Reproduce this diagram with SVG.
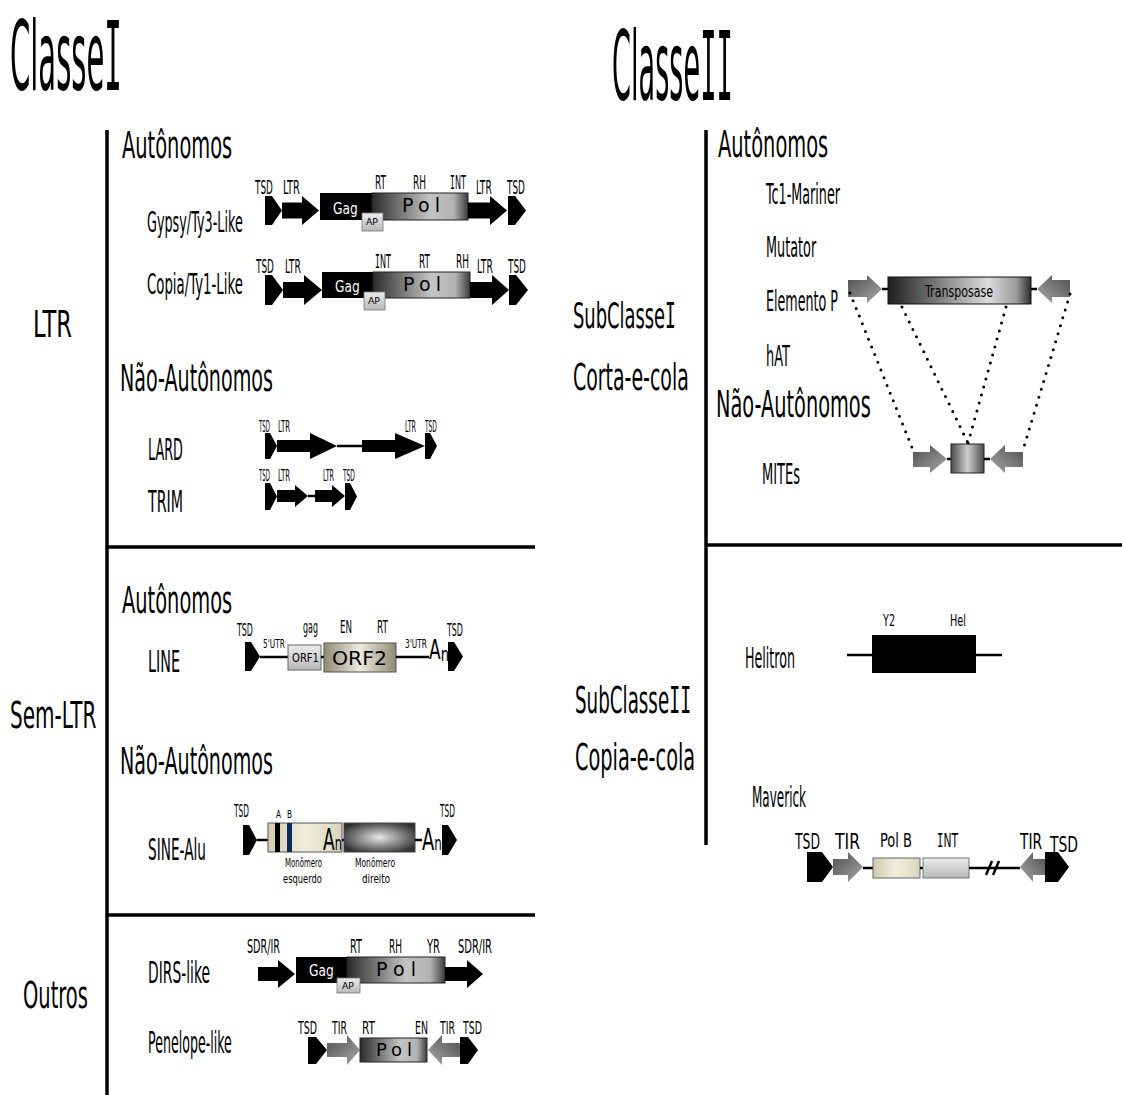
<svg xmlns="http://www.w3.org/2000/svg" width="1122" height="1095" viewBox="0 0 1122 1095">
  <defs>
    <linearGradient id="gPol" x1="0" y1="0" x2="1" y2="0">
      <stop offset="0" stop-color="#2a2a2a"/>
      <stop offset="0.6" stop-color="#c4c4c4"/>
      <stop offset="0.85" stop-color="#b2b2b2"/>
      <stop offset="1" stop-color="#3c3c3c"/>
    </linearGradient>
    <linearGradient id="gTrans" x1="0" y1="0" x2="1" y2="0">
      <stop offset="0" stop-color="#1e1e1e"/>
      <stop offset="0.7" stop-color="#dcdcdc"/>
      <stop offset="0.9" stop-color="#9a9a9a"/>
      <stop offset="1" stop-color="#2a2a2a"/>
    </linearGradient>
    <linearGradient id="gGray" x1="0" y1="0" x2="1" y2="1">
      <stop offset="0" stop-color="#4e4e4e"/>
      <stop offset="1" stop-color="#a8a8a8"/>
    </linearGradient>
    <linearGradient id="gGrayL" x1="1" y1="0" x2="0" y2="1">
      <stop offset="0" stop-color="#4e4e4e"/>
      <stop offset="1" stop-color="#a8a8a8"/>
    </linearGradient>
    <linearGradient id="gLight" x1="0" y1="0" x2="0" y2="1">
      <stop offset="0" stop-color="#ececec"/>
      <stop offset="1" stop-color="#b8b8b8"/>
    </linearGradient>
    <linearGradient id="gKhaki" x1="0" y1="0" x2="1" y2="0">
      <stop offset="0" stop-color="#8e8a72"/>
      <stop offset="0.5" stop-color="#ecebdf"/>
      <stop offset="1" stop-color="#8e8a72"/>
    </linearGradient>
    <linearGradient id="gBeige" x1="0" y1="0" x2="1" y2="0">
      <stop offset="0" stop-color="#d2cdb0"/>
      <stop offset="0.5" stop-color="#f0eedf"/>
      <stop offset="1" stop-color="#d8d4bc"/>
    </linearGradient>
    <radialGradient id="gMono" cx="0.5" cy="0.5" r="0.6">
      <stop offset="0" stop-color="#e6e6e6"/>
      <stop offset="1" stop-color="#2e2e2e"/>
    </radialGradient>
    <linearGradient id="gMite" x1="0" y1="0" x2="1" y2="0">
      <stop offset="0" stop-color="#4a4a4a"/>
      <stop offset="0.5" stop-color="#cfcfcf"/>
      <stop offset="1" stop-color="#4a4a4a"/>
    </linearGradient>
    <style>
      .t { font-family: "DejaVu Sans", "Liberation Sans", sans-serif; fill: #000; }
      .m { font-family: "DejaVu Sans Mono", monospace; }
      .w { fill: #fff; }
      .blk { fill: #000; }
      .pol { fill: url(#gPol); stroke: #222; stroke-width: 1; }
      .ap { fill: url(#gLight); stroke: #777; stroke-width: 0.8; }
      .gr { fill: url(#gGray); }
      .grl { fill: url(#gGrayL); }
      .ln { stroke: #000; stroke-width: 2.5; fill: none; }
      .axis { stroke: #000; stroke-width: 3.5; fill: none; }
      .dots { stroke: #000; stroke-width: 3; stroke-linecap: round; stroke-dasharray: 0 8.3; fill: none; }
    </style>
  </defs>
  <rect width="1122" height="1095" fill="#fff"/>

  <!-- headings (narrow lettering: horizontal scale + fitted length) -->
  <g id="titles">
    <text class="t" font-size="96" transform="matrix(0.303 0 0 1 10 90)" textLength="369" lengthAdjust="spacingAndGlyphs">Classe<tspan class="m">I</tspan></text>
    <text class="t" font-size="96" transform="matrix(0.283 0 0 1 612 100)" textLength="427" lengthAdjust="spacingAndGlyphs">Classe<tspan class="m">II</tspan></text>
  </g>

  <!-- section frame lines -->
  <g id="frame">
    <line class="axis" x1="107" y1="130" x2="107" y2="1095"/>
    <line class="axis" x1="107" y1="547" x2="535" y2="547"/>
    <line class="axis" x1="107" y1="915" x2="535" y2="915"/>
    <line class="axis" x1="706" y1="130" x2="706" y2="845"/>
    <line class="axis" x1="706" y1="545" x2="1122" y2="545"/>
  </g>

  <!-- category labels, class I -->
  <g id="labels-classe1">
    <text class="t" font-size="38" transform="matrix(0.510 0 0 1 122 158)" textLength="216" lengthAdjust="spacingAndGlyphs">Autônomos</text>
    <text class="t" font-size="37" transform="matrix(0.566 0 0 1 33 337)" textLength="69" lengthAdjust="spacingAndGlyphs">LTR</text>
    <text class="t" font-size="28" transform="matrix(0.452 0 0 1 147 232)" textLength="212" lengthAdjust="spacingAndGlyphs">Gypsy/Ty3-Like</text>
    <text class="t" font-size="28" transform="matrix(0.463 0 0 1 147 294)" textLength="207" lengthAdjust="spacingAndGlyphs">Copia/Ty1-Like</text>
    <text class="t" font-size="38" transform="matrix(0.503 0 0 1 120 391)" textLength="304" lengthAdjust="spacingAndGlyphs">Não-Autônomos</text>
    <text class="t" font-size="30" transform="matrix(0.431 0 0 1 148 460)" textLength="81" lengthAdjust="spacingAndGlyphs">LARD</text>
    <text class="t" font-size="30" transform="matrix(0.474 0 0 1 148 512)" textLength="74" lengthAdjust="spacingAndGlyphs">TRIM</text>
    <text class="t" font-size="38" transform="matrix(0.510 0 0 1 122 613)" textLength="216" lengthAdjust="spacingAndGlyphs">Autônomos</text>
    <text class="t" font-size="30" transform="matrix(0.478 0 0 1 148 672)" textLength="67" lengthAdjust="spacingAndGlyphs">LINE</text>
    <text class="t" font-size="37" transform="matrix(0.523 0 0 1 10 728)" textLength="165" lengthAdjust="spacingAndGlyphs">Sem-LTR</text>
    <text class="t" font-size="38" transform="matrix(0.503 0 0 1 120 774)" textLength="304" lengthAdjust="spacingAndGlyphs">Não-Autônomos</text>
    <text class="t" font-size="30" transform="matrix(0.453 0 0 1 148 860)" textLength="128" lengthAdjust="spacingAndGlyphs">SINE-Alu</text>
    <text class="t" font-size="37" transform="matrix(0.523 0 0 1 23 1008)" textLength="124" lengthAdjust="spacingAndGlyphs">Outros</text>
    <text class="t" font-size="30" transform="matrix(0.459 0 0 1 148 983)" textLength="135" lengthAdjust="spacingAndGlyphs">DIRS-like</text>
    <text class="t" font-size="30" transform="matrix(0.383 0 0 1 148 1053)" textLength="219" lengthAdjust="spacingAndGlyphs">Penelope-like</text>
  </g>

  <!-- category labels, class II -->
  <g id="labels-classe2">
    <text class="t" font-size="38" transform="matrix(0.510 0 0 1 718 157)" textLength="216" lengthAdjust="spacingAndGlyphs">Autônomos</text>
    <text class="t" font-size="28" transform="matrix(0.443 0 0 1 766 204)" textLength="167" lengthAdjust="spacingAndGlyphs">Tc1-Mariner</text>
    <text class="t" font-size="28" transform="matrix(0.456 0 0 1 766 257)" textLength="110" lengthAdjust="spacingAndGlyphs">Mutator</text>
    <text class="t" font-size="28" transform="matrix(0.453 0 0 1 766 311)" textLength="159" lengthAdjust="spacingAndGlyphs">Elemento P</text>
    <text class="t" font-size="28" transform="matrix(0.444 0 0 1 766 366)" textLength="54" lengthAdjust="spacingAndGlyphs">hAT</text>
    <text class="t" font-size="38" transform="matrix(0.509 0 0 1 716 417)" textLength="304" lengthAdjust="spacingAndGlyphs">Não-Autônomos</text>
    <text class="t" font-size="28" transform="matrix(0.464 0 0 1 762 484)" textLength="82" lengthAdjust="spacingAndGlyphs">MITEs</text>
    <text class="t" font-size="36" transform="matrix(0.497 0 0 1 573 328)" textLength="207" lengthAdjust="spacingAndGlyphs">SubClasse<tspan class="m">I</tspan></text>
    <text class="t" font-size="38" transform="matrix(0.499 0 0 1 573 390)" textLength="232" lengthAdjust="spacingAndGlyphs">Corta-e-cola</text>
    <text class="t" font-size="28" transform="matrix(0.450 0 0 1 745 668)" textLength="111" lengthAdjust="spacingAndGlyphs">Helitron</text>
    <text class="t" font-size="38" transform="matrix(0.480 0 0 1 575 713)" textLength="242" lengthAdjust="spacingAndGlyphs">SubClasse<tspan class="m">II</tspan></text>
    <text class="t" font-size="38" transform="matrix(0.507 0 0 1 575 770)" textLength="237" lengthAdjust="spacingAndGlyphs">Copia-e-cola</text>
    <text class="t" font-size="28" transform="matrix(0.429 0 0 1 752 807)" textLength="126" lengthAdjust="spacingAndGlyphs">Maverick</text>
  </g>

  <!-- Gypsy/Ty3 -->
  <g id="gypsy">
    <path class="blk" d="M265,196 H272 L282,210.5 L272,225 H265 Z"/>
    <path class="blk" d="M282,202.5 H302 V196 L319,210.5 L302,225 V218.5 H282 Z"/>
    <rect class="blk" x="320" y="193" width="52" height="27"/>
    <rect class="pol" x="372" y="193" width="96" height="27"/>
    <rect class="ap" x="362" y="213" width="21" height="18"/>
    <path class="blk" d="M468,202.5 H490 V196 L507,210.5 L490,225 V218.5 H468 Z"/>
    <path class="blk" d="M508,196 H515 L526,210.5 L515,225 H508 Z"/>
    <text class="t w" font-size="16" transform="matrix(0.772 0 0 1 333 214)" textLength="32" lengthAdjust="spacingAndGlyphs">Gag</text>
    <text class="t" x="402" y="212" font-size="19" textLength="38" lengthAdjust="spacing">Pol</text>
    <text class="t" x="366" y="225" font-size="8.5" textLength="12" lengthAdjust="spacingAndGlyphs">AP</text>
    <text class="t" font-size="20" transform="matrix(0.447 0 0 1 255 194)" textLength="40" lengthAdjust="spacingAndGlyphs">TSD</text>
    <text class="t" font-size="20" transform="matrix(0.456 0 0 1 283 194)" textLength="37" lengthAdjust="spacingAndGlyphs">LTR</text>
    <text class="t" font-size="20" transform="matrix(0.421 0 0 1 375 189)" textLength="26" lengthAdjust="spacingAndGlyphs">RT</text>
    <text class="t" font-size="20" transform="matrix(0.449 0 0 1 413 189)" textLength="29" lengthAdjust="spacingAndGlyphs">RH</text>
    <text class="t" font-size="20" transform="matrix(0.408 0 0 1 450 189)" textLength="39" lengthAdjust="spacingAndGlyphs"><tspan class="m">I</tspan>NT</text>
    <text class="t" font-size="20" transform="matrix(0.429 0 0 1 476 194)" textLength="37" lengthAdjust="spacingAndGlyphs">LTR</text>
    <text class="t" font-size="20" transform="matrix(0.447 0 0 1 507 194)" textLength="40" lengthAdjust="spacingAndGlyphs">TSD</text>
  </g>

  <!-- Copia/Ty1 -->
  <g id="copia">
    <path class="blk" d="M265,275 H272 L283,290 L272,305 H265 Z"/>
    <path class="blk" d="M283,282 H304 V275 L322,290 L304,305 V298 H283 Z"/>
    <rect class="blk" x="322" y="272" width="51" height="26"/>
    <rect class="pol" x="373" y="272" width="97" height="26"/>
    <rect class="ap" x="364" y="292" width="21" height="18"/>
    <path class="blk" d="M470,282 H492 V275 L509,290 L492,305 V298 H470 Z"/>
    <path class="blk" d="M509,275 H516 L528,290 L516,305 H509 Z"/>
    <text class="t w" font-size="16" transform="matrix(0.772 0 0 1 335 292)" textLength="32" lengthAdjust="spacingAndGlyphs">Gag</text>
    <text class="t" x="403" y="291" font-size="19" textLength="38" lengthAdjust="spacing">Pol</text>
    <text class="t" x="368" y="304" font-size="8.5" textLength="12" lengthAdjust="spacingAndGlyphs">AP</text>
    <text class="t" font-size="20" transform="matrix(0.447 0 0 1 256 273)" textLength="40" lengthAdjust="spacingAndGlyphs">TSD</text>
    <text class="t" font-size="20" transform="matrix(0.429 0 0 1 285 273)" textLength="37" lengthAdjust="spacingAndGlyphs">LTR</text>
    <text class="t" font-size="20" transform="matrix(0.408 0 0 1 375 268)" textLength="39" lengthAdjust="spacingAndGlyphs"><tspan class="m">I</tspan>NT</text>
    <text class="t" font-size="20" transform="matrix(0.421 0 0 1 419 268)" textLength="26" lengthAdjust="spacingAndGlyphs">RT</text>
    <text class="t" font-size="20" transform="matrix(0.449 0 0 1 456 268)" textLength="29" lengthAdjust="spacingAndGlyphs">RH</text>
    <text class="t" font-size="20" transform="matrix(0.429 0 0 1 477 273)" textLength="37" lengthAdjust="spacingAndGlyphs">LTR</text>
    <text class="t" font-size="20" transform="matrix(0.447 0 0 1 508 273)" textLength="40" lengthAdjust="spacingAndGlyphs">TSD</text>
  </g>

  <!-- LARD -->
  <g id="lard">
    <path class="blk" d="M265,433 H270 L277,446 L270,459 H265 Z"/>
    <path class="blk" d="M277,440 H310 V433 L337,446 L310,459 V452 H277 Z"/>
    <line class="ln" x1="337" y1="446" x2="362" y2="446"/>
    <path class="blk" d="M362,440 H395 V433 L425,446 L395,459 V452 H362 Z"/>
    <path class="blk" d="M425,433 H430 L437,446 L430,459 H425 Z"/>
    <text class="t" font-size="15" transform="matrix(0.364 0 0 1 259 432)" textLength="30" lengthAdjust="spacingAndGlyphs">TSD</text>
    <text class="t" font-size="15" transform="matrix(0.430 0 0 1 278 432)" textLength="28" lengthAdjust="spacingAndGlyphs">LTR</text>
    <text class="t" font-size="15" transform="matrix(0.394 0 0 1 405 432)" textLength="28" lengthAdjust="spacingAndGlyphs">LTR</text>
    <text class="t" font-size="15" transform="matrix(0.397 0 0 1 425 432)" textLength="30" lengthAdjust="spacingAndGlyphs">TSD</text>
  </g>

  <!-- TRIM -->
  <g id="trim">
    <path class="blk" d="M265,483 H270 L277,496.5 L270,510 H265 Z"/>
    <path class="blk" d="M277,490 H295 V485 L308,496 L295,507 V502 H277 Z"/>
    <line class="ln" x1="308" y1="496" x2="315" y2="496"/>
    <path class="blk" d="M315,490 H332 V485 L345,496 L332,507 V502 H315 Z"/>
    <path class="blk" d="M345,483 H350 L357,496.5 L350,510 H345 Z"/>
    <text class="t" font-size="15" transform="matrix(0.364 0 0 1 259 481)" textLength="30" lengthAdjust="spacingAndGlyphs">TSD</text>
    <text class="t" font-size="15" transform="matrix(0.430 0 0 1 278 481)" textLength="28" lengthAdjust="spacingAndGlyphs">LTR</text>
    <text class="t" font-size="15" transform="matrix(0.394 0 0 1 323 481)" textLength="28" lengthAdjust="spacingAndGlyphs">LTR</text>
    <text class="t" font-size="15" transform="matrix(0.397 0 0 1 343 481)" textLength="30" lengthAdjust="spacingAndGlyphs">TSD</text>
  </g>

  <!-- LINE -->
  <g id="line-element">
    <path class="blk" d="M245,642 H251 L260,656.5 L251,671 H245 Z"/>
    <line class="ln" x1="260" y1="657" x2="288" y2="657"/>
    <rect x="288" y="645" width="33" height="25" fill="url(#gLight)" stroke="#666" stroke-width="1"/>
    <line class="ln" x1="321" y1="657" x2="324" y2="657"/>
    <rect x="324" y="643" width="72" height="29" fill="url(#gKhaki)" stroke="#555" stroke-width="1"/>
    <line class="ln" x1="396" y1="657" x2="429" y2="657"/>
    <path class="blk" d="M448,642 H454 L463,656.5 L454,671 H448 Z"/>
    <text class="t" font-size="13" transform="matrix(0.771 0 0 1 292 662)" textLength="35" lengthAdjust="spacingAndGlyphs">ORF1</text>
    <text class="t" x="332" y="665" font-size="20" textLength="55" lengthAdjust="spacingAndGlyphs">ORF2</text>
    <text class="t" font-size="26" transform="matrix(0.656 0 0 1 429 659)" textLength="30.5" lengthAdjust="spacingAndGlyphs">A<tspan font-size="20" dy="2">n</tspan></text>
    <text class="t" font-size="18" transform="matrix(0.441 0 0 1 237 636)" textLength="36" lengthAdjust="spacingAndGlyphs">TSD</text>
    <text class="t" font-size="12" transform="matrix(0.622 0 0 1 263 648)" textLength="35" lengthAdjust="spacingAndGlyphs">5'UTR</text>
    <text class="t" font-size="17" transform="matrix(0.469 0 0 1 303 633)" textLength="32" lengthAdjust="spacingAndGlyphs">gag</text>
    <text class="t" font-size="17" transform="matrix(0.511 0 0 1 340 633)" textLength="23.5" lengthAdjust="spacingAndGlyphs">EN</text>
    <text class="t" font-size="17" transform="matrix(0.495 0 0 1 377 633)" textLength="22.2" lengthAdjust="spacingAndGlyphs">RT</text>
    <text class="t" font-size="12" transform="matrix(0.622 0 0 1 405 648)" textLength="35" lengthAdjust="spacingAndGlyphs">3'UTR</text>
    <text class="t" font-size="18" transform="matrix(0.441 0 0 1 447 636)" textLength="36" lengthAdjust="spacingAndGlyphs">TSD</text>
  </g>

  <!-- SINE-Alu -->
  <g id="sine-alu">
    <path class="blk" d="M243,825 H249 L257,840 L249,855 H243 Z"/>
    <line class="ln" x1="257" y1="840" x2="268" y2="840"/>
    <rect x="268" y="823" width="74" height="29" fill="url(#gBeige)" stroke="#555" stroke-width="1"/>
    <rect x="275" y="823" width="5" height="29" fill="#000"/>
    <rect x="287" y="823" width="5" height="29" fill="#0b2a5c"/>
    <line class="ln" x1="342" y1="840" x2="344" y2="840"/>
    <rect x="344" y="823" width="71" height="29" fill="url(#gMono)" stroke="#444" stroke-width="1"/>
    <line class="ln" x1="415" y1="840" x2="422" y2="840"/>
    <path class="blk" d="M442,825 H448 L457,840 L448,855 H442 Z"/>
    <text class="t" font-size="30" transform="matrix(0.572 0 0 1 323 850)" textLength="33" lengthAdjust="spacingAndGlyphs">A<tspan font-size="20">n</tspan></text>
    <text class="t" font-size="30" transform="matrix(0.602 0 0 1 422 850)" textLength="33" lengthAdjust="spacingAndGlyphs">A<tspan font-size="20">n</tspan></text>
    <text class="t" font-size="17" transform="matrix(0.437 0 0 1 234 817)" textLength="34" lengthAdjust="spacingAndGlyphs">TSD</text>
    <text class="t" font-size="11" transform="matrix(0.666 0 0 1 276 818)" textLength="7.5" lengthAdjust="spacingAndGlyphs">A</text>
    <text class="t" font-size="11" transform="matrix(0.666 0 0 1 287 818)" textLength="7.5" lengthAdjust="spacingAndGlyphs">B</text>
    <text class="t" font-size="17" transform="matrix(0.437 0 0 1 440 817)" textLength="34" lengthAdjust="spacingAndGlyphs">TSD</text>
    <text class="t" font-size="12" transform="matrix(0.578 0 0 1 285 867)" textLength="64" lengthAdjust="spacingAndGlyphs">Monômero</text>
    <text class="t" font-size="12" transform="matrix(0.695 0 0 1 283 883)" textLength="56" lengthAdjust="spacingAndGlyphs">esquerdo</text>
    <text class="t" font-size="12" transform="matrix(0.625 0 0 1 355 867)" textLength="64" lengthAdjust="spacingAndGlyphs">Monômero</text>
    <text class="t" font-size="12" transform="matrix(0.724 0 0 1 362 883)" textLength="38.7" lengthAdjust="spacingAndGlyphs">direito</text>
  </g>

  <!-- DIRS-like -->
  <g id="dirs">
    <path class="blk" d="M258,967 H278 V960 L295,974 L278,988 V981 H258 Z"/>
    <rect class="blk" x="296" y="957" width="51" height="26"/>
    <rect class="pol" x="347" y="957" width="98" height="26"/>
    <rect class="ap" x="337" y="978" width="23" height="15"/>
    <path class="blk" d="M445,967 H467 V960 L483,974 L467,988 V981 H445 Z"/>
    <text class="t w" font-size="16" transform="matrix(0.772 0 0 1 309 976)" textLength="32" lengthAdjust="spacingAndGlyphs">Gag</text>
    <text class="t" x="376" y="976" font-size="19" textLength="40" lengthAdjust="spacing">Pol</text>
    <text class="t" x="342" y="989" font-size="8.5" textLength="12" lengthAdjust="spacingAndGlyphs">AP</text>
    <text class="t" font-size="20" transform="matrix(0.482 0 0 1 247 953)" textLength="68.5" lengthAdjust="spacingAndGlyphs">SDR/IR</text>
    <text class="t" font-size="20" transform="matrix(0.460 0 0 1 350 953)" textLength="26" lengthAdjust="spacingAndGlyphs">RT</text>
    <text class="t" font-size="20" transform="matrix(0.449 0 0 1 389 953)" textLength="29" lengthAdjust="spacingAndGlyphs">RH</text>
    <text class="t" font-size="20" transform="matrix(0.498 0 0 1 427 953)" textLength="26" lengthAdjust="spacingAndGlyphs">YR</text>
    <text class="t" font-size="20" transform="matrix(0.496 0 0 1 458 953)" textLength="68.5" lengthAdjust="spacingAndGlyphs">SDR/IR</text>
  </g>

  <!-- Penelope-like -->
  <g id="penelope">
    <path class="blk" d="M308,1037 H316 L327,1050 L316,1064 H308 Z"/>
    <path class="gr" d="M327,1043 H347 V1035 L360,1050 L347,1065 V1057 H327 Z"/>
    <rect class="pol" x="360" y="1038" width="67" height="24"/>
    <path class="grl" d="M428,1050 L442,1035 V1043 H460 V1057 H442 V1065 Z"/>
    <path class="blk" d="M460,1037 H468 L478,1050 L468,1064 H460 Z"/>
    <text class="t" x="376" y="1056" font-size="18" textLength="36" lengthAdjust="spacing">Pol</text>
    <text class="t" font-size="18" transform="matrix(0.523 0 0 1 298 1034)" textLength="36.3" lengthAdjust="spacingAndGlyphs">TSD</text>
    <text class="t" font-size="18" transform="matrix(0.521 0 0 1 332 1034)" textLength="28.8" lengthAdjust="spacingAndGlyphs">TIR</text>
    <text class="t" font-size="18" transform="matrix(0.553 0 0 1 362 1034)" textLength="23.5" lengthAdjust="spacingAndGlyphs">RT</text>
    <text class="t" font-size="18" transform="matrix(0.524 0 0 1 415 1034)" textLength="24.8" lengthAdjust="spacingAndGlyphs">EN</text>
    <text class="t" font-size="18" transform="matrix(0.521 0 0 1 440 1034)" textLength="28.8" lengthAdjust="spacingAndGlyphs">TIR</text>
    <text class="t" font-size="18" transform="matrix(0.523 0 0 1 463 1034)" textLength="36.3" lengthAdjust="spacingAndGlyphs">TSD</text>
  </g>

  <!-- Elemento P with transposase -->
  <g id="elemento-p">
    <path class="gr" d="M848,280 H867 V275 L882,289 L867,303 V297 H848 Z"/>
    <line class="ln" x1="882" y1="289" x2="888" y2="289"/>
    <rect x="888" y="277" width="143" height="27" fill="url(#gTrans)" stroke="#111" stroke-width="1"/>
    <line class="ln" x1="1031" y1="289" x2="1037" y2="289"/>
    <path class="grl" d="M1037,289 L1052,275 V280 H1070 V297 H1052 V303 Z"/>
    <text class="t" font-size="15" transform="matrix(0.719 0 0 1 925 297)" textLength="94.6" lengthAdjust="spacingAndGlyphs">Transposase</text>
  </g>

  <!-- MITE -->
  <g id="mite">
    <path class="gr" d="M913,452 H930 V445 L947,459 L930,473 V467 H913 Z"/>
    <line class="ln" x1="947" y1="459" x2="951" y2="459"/>
    <rect x="951" y="444" width="33" height="29" fill="url(#gMite)" stroke="#222" stroke-width="1"/>
    <line class="ln" x1="984" y1="459" x2="990" y2="459"/>
    <path class="grl" d="M990,459 L1005,445 V452 H1023 V467 H1005 V473 Z"/>
  </g>

  <!-- Helitron -->
  <g id="helitron">
    <line class="ln" x1="847" y1="655" x2="872" y2="655" stroke-width="3"/>
    <rect class="blk" x="872" y="635" width="104" height="38"/>
    <line class="ln" x1="976" y1="655" x2="1002" y2="655" stroke-width="3"/>
    <text class="t" font-size="16" transform="matrix(0.600 0 0 1 883 626)" textLength="20" lengthAdjust="spacingAndGlyphs">Y2</text>
    <text class="t" font-size="16" transform="matrix(0.608 0 0 1 950 626)" textLength="26.3" lengthAdjust="spacingAndGlyphs">Hel</text>
  </g>

  <!-- Maverick -->
  <g id="maverick">
    <path class="blk" d="M807,852 H822 L833,867 L822,882 H807 Z"/>
    <path class="gr" d="M833,859 H848 V852 L863,867 L848,882 V875 H833 Z"/>
    <line class="ln" x1="863" y1="868" x2="873" y2="868"/>
    <rect x="873" y="858" width="47" height="20" fill="url(#gBeige)" stroke="#666" stroke-width="1"/>
    <line class="ln" x1="920" y1="868" x2="923" y2="868"/>
    <rect x="923" y="858" width="46" height="20" fill="url(#gLight)" stroke="#777" stroke-width="1"/>
    <line class="ln" x1="969" y1="868" x2="1020" y2="868"/>
    <line class="ln" x1="986" y1="875" x2="992" y2="861"/>
    <line class="ln" x1="993" y1="875" x2="999" y2="861"/>
    <path class="grl" d="M1020,867 L1033,852 V859 H1045 V875 H1033 V882 Z"/>
    <path class="blk" d="M1045,852 H1058 L1069,867 L1058,882 H1045 Z"/>
    <text class="t" font-size="22" transform="matrix(0.563 0 0 1 795 849)" textLength="44.4" lengthAdjust="spacingAndGlyphs">TSD</text>
    <text class="t" font-size="22" transform="matrix(0.710 0 0 1 835 849)" textLength="35.2" lengthAdjust="spacingAndGlyphs">TIR</text>
    <text class="t" font-size="20" transform="matrix(0.641 0 0 1 880 847)" textLength="49.9" lengthAdjust="spacingAndGlyphs">Pol B</text>
    <text class="t" font-size="20" transform="matrix(0.536 0 0 1 937 847)" textLength="39.2" lengthAdjust="spacingAndGlyphs"><tspan class="m">I</tspan>NT</text>
    <text class="t" font-size="22" transform="matrix(0.625 0 0 1 1020 849)" textLength="35.2" lengthAdjust="spacingAndGlyphs">TIR</text>
    <text class="t" font-size="22" transform="matrix(0.631 0 0 1 1050 852)" textLength="44.4" lengthAdjust="spacingAndGlyphs">TSD</text>
  </g>

  <!-- dotted connectors: P element ends/transposase to MITE -->
  <g id="connectors">
    <line class="dots" x1="850" y1="293" x2="913" y2="450"/>
    <line class="dots" x1="902" y1="307" x2="968" y2="443"/>
    <line class="dots" x1="1006" y1="307" x2="968" y2="443"/>
    <line class="dots" x1="1070" y1="294" x2="1023" y2="450"/>
  </g>
</svg>
